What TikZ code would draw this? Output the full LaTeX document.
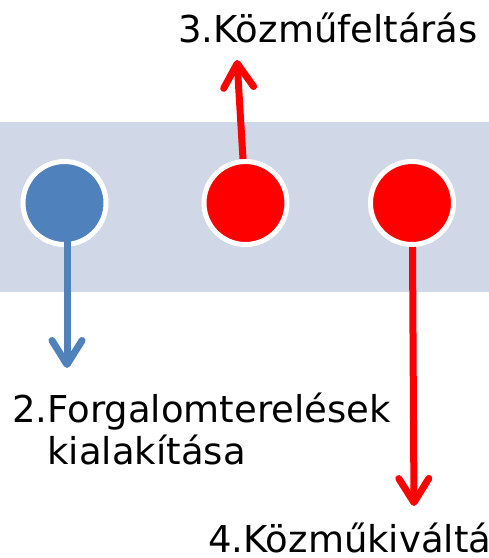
\documentclass[tikz,border=0pt]{standalone}
\usepackage{fontspec}
\setmainfont{DejaVu Sans}
\usetikzlibrary{calc,arrows.meta}
\definecolor{bandgray}{HTML}{D0D8E8}
\definecolor{spotblue}{HTML}{4F81BD}

\begin{document}
\begin{tikzpicture}[x=1pt,y=-1pt,
		spot/.style={circle, draw=white, line width=5pt, minimum size=83pt, inner sep=0pt},
		move/.style={line width=7pt, -{Straight Barb[length=24pt,width=30pt,round]}},
		txt/.style={anchor=base west, inner sep=0pt, font=\fontsize{37}{42}\selectfont}]
		%%%%% START %%%%%
		
		\clip (0, 0) rectangle (489, 558);
		\fill[bandgray] (0, 122) rectangle (489, 292);
		
		\node[spot, fill=spotblue] (c1) at (64.5, 203) {};
		\node[spot, fill=red] (c2) at (245.5, 203) {};
		\node[spot, fill=red] (c3) at (412, 203) {};
		
		\coordinate (e1) at (67, 368);
		\coordinate (e2) at (237, 60);
		\coordinate (e3) at (414, 506);
		
		\draw[move, spotblue] ($(c1.center)+(2.5, 35)$) -- (e1);
		\draw[move, red] ($(c2.north)+(-2.5, 0)$) -- (e2);
		\draw[move, red] ($(c3.south)+(0.5, 0)$) -- (e3);
		
		\node[txt] (t3) at (178, 42) {3.Közműfeltárás};
		\node[txt] (t2) at (12, 422) {\begin{tabular}[t]{@{}l@{}l@{}}2.&Forgalomterelések\\&kialakítása\end{tabular}};
		\node[txt] (t4) at (208, 552) {4.Közműkiváltás};
		
		%%%%% END %%%%%
	\end{tikzpicture}
\end{document}
